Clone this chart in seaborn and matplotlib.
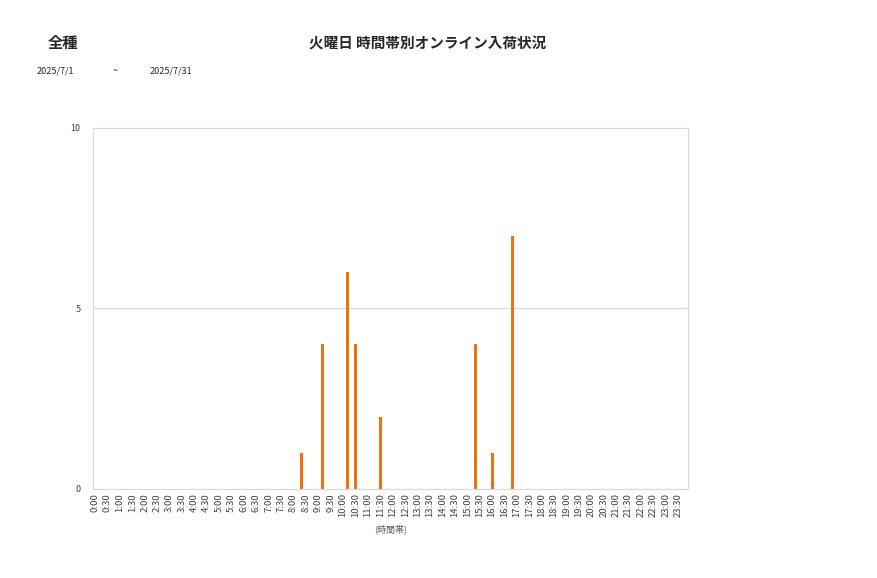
import numpy as np
import pandas as pd
import seaborn as sns
import matplotlib.pyplot as plt

# 10-minute time slots 0:00 .. 23:50 (labels shown every 30 minutes)
slots = [f"{h}:{m:02d}" for h in range(24) for m in range(0, 60, 10)]
tick_labels = [f"{h}:{m:02d}" for h in range(24) for m in (0, 30)]

# arrivals per slot (only non-zero slots listed)
hit_slots = ['8:20', '9:10', '10:10', '10:30', '11:30', '15:20', '16:00', '16:50']
hit_counts = [1, 4, 6, 4, 2, 4, 1, 7]

counts = dict(zip(hit_slots, hit_counts))
df = pd.DataFrame({'slot': slots, 'count': [counts.get(s, 0) for s in slots]})

sns.set_style('white')
plt.rcParams['font.family'] = ['Noto Sans CJK JP', 'DejaVu Sans']

fig = plt.figure(figsize=(8.77, 5.78), dpi=100)
ax = fig.add_axes([0.106, 0.154, 0.679, 0.625])

sns.barplot(data=df, x='slot', y='count', color='#F07014', width=0.72,
            saturation=1, linewidth=0, ax=ax)

ax.set_ylim(0, 10)
ax.set_yticks([0, 5, 10])
ax.set_xlim(-0.5, len(slots) - 0.5)
ax.set_xticks([slots.index(t) for t in tick_labels])
ax.set_xticklabels(tick_labels)
ax.yaxis.grid(True, color='#d9d9d9', linewidth=0.8)
ax.set_axisbelow(True)
for sp in ax.spines.values():
    sp.set_color('#d9d9d9')
    sp.set_linewidth(0.8)

ax.tick_params(axis='x', labelrotation=90, labelsize=6.8, colors='#404040', length=0, pad=3)
ax.tick_params(axis='y', labelsize=6.5, colors='#404040', length=0, pad=9)
ax.set_ylabel('')
ax.set_xlabel('(時間帯)', fontsize=6.5, color='#595959', labelpad=5)

# header texts
fig.text(0.072, 0.925, '全種', fontsize=11, fontweight='bold', ha='center', va='center')
fig.text(0.488, 0.925, '火曜日 時間帯別オンライン入荷状況', fontsize=10.5, fontweight='bold',
         ha='center', va='center')
fig.text(0.063, 0.878, '2025/7/1', fontsize=6.5, ha='center', va='center')
fig.text(0.131, 0.878, '~', fontsize=6.5, ha='center', va='center')
fig.text(0.195, 0.878, '2025/7/31', fontsize=6.5, ha='center', va='center')

fig.savefig('out.png', dpi=100)
